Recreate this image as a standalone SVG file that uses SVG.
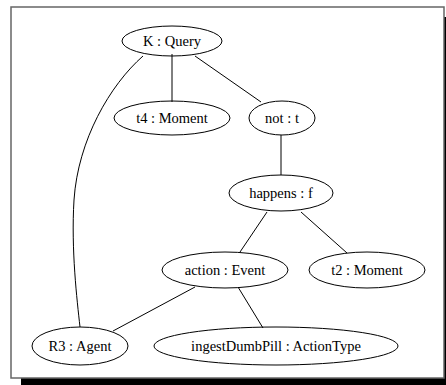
<svg xmlns="http://www.w3.org/2000/svg" width="446" height="385" viewBox="0 0 446 385">
  <style>
    .node ellipse { fill: none; stroke: #000; stroke-width: 1; }
    .node text { font-family: "Liberation Serif", "Times New Roman", serif; font-size: 14.5px; text-anchor: middle; fill: #000; }
    .edges path { fill: none; stroke: #000; stroke-width: 1; }
  </style>
  <!-- page frame with drop shadow -->
  <rect x="21" y="17" width="433" height="371" fill="#000"/>
  <rect x="11" y="7" width="433" height="371" fill="#fff" stroke="#666" stroke-width="1.5"/>

  <g class="edges">
    <path d="M172,54 L172,102"/>
    <path d="M195,56 L261,102"/>
    <path d="M143,56 C110,85 78,140 74,200 C71,250 77,300 80,327"/>
    <path d="M281,135 L281,175"/>
    <path d="M267,212 L240,252"/>
    <path d="M301,212 L347,253"/>
    <path d="M195,287 L113,331"/>
    <path d="M238,287 L263,328"/>
  </g>

  <g id="n-k-query" class="node">
    <ellipse cx="172" cy="41" rx="50" ry="15"/>
    <text x="172" y="46">K : Query</text>
  </g>
  <g id="n-t4-moment" class="node">
    <ellipse cx="172" cy="118" rx="58" ry="17"/>
    <text x="172" y="123">t4 : Moment</text>
  </g>
  <g id="n-not-t" class="node">
    <ellipse cx="282" cy="118" rx="33" ry="17"/>
    <text x="282" y="123">not : t</text>
  </g>
  <g id="n-happens-f" class="node">
    <ellipse cx="281" cy="193" rx="52" ry="18"/>
    <text x="281" y="198">happens : f</text>
  </g>
  <g id="n-action-event" class="node">
    <ellipse cx="225" cy="270" rx="63" ry="18"/>
    <text x="225" y="275">action : Event</text>
  </g>
  <g id="n-t2-moment" class="node">
    <ellipse cx="367" cy="270" rx="58" ry="18"/>
    <text x="367" y="275">t2 : Moment</text>
  </g>
  <g id="n-r3-agent" class="node">
    <ellipse cx="80" cy="346" rx="48" ry="19"/>
    <text x="80" y="351">R3 : Agent</text>
  </g>
  <g id="n-ingest" class="node">
    <ellipse cx="276" cy="346" rx="122" ry="19"/>
    <text x="276" y="351">ingestDumbPill : ActionType</text>
  </g>
</svg>
